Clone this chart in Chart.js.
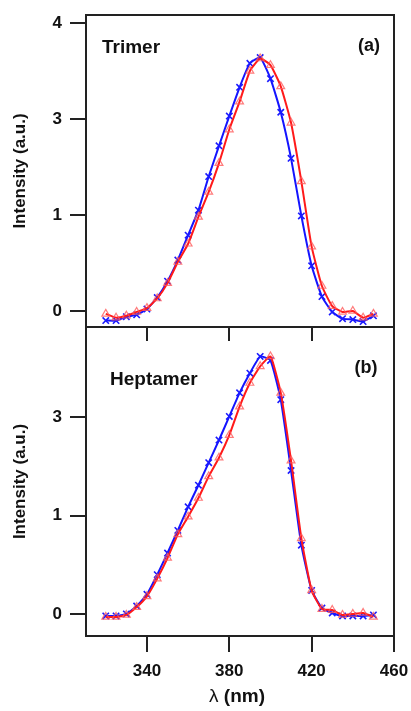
<!DOCTYPE html>
<html>
<head>
<meta charset="utf-8">
<script src="https://cdn.jsdelivr.net/npm/chart.js@4.4.1/dist/chart.umd.min.js"></script>
<style>
  html, body { margin: 0; padding: 0; background: #fff; }
  #wrap { position: relative; width: 411px; height: 711px; }
  .panel { position: absolute; left: 0; width: 411px; }
</style>
</head>
<body>
<div id="wrap">
  <div class="panel" style="top:0; height:328px"><canvas id="trimer"></canvas></div>
  <div class="panel" style="top:326px; height:385px"><canvas id="heptamer"></canvas></div>
</div>
<script>
// wavelength (nm) of each measured point
const wavelengths = [320, 325, 330, 335, 340, 345, 350, 355, 360, 365, 370, 375, 380, 385,
  390, 395, 400, 405, 410, 415, 420, 425, 430, 435, 440, 445, 450]

// (a) Trimer (evenly spaced tick units)
const trimerBlue = [-0.10, -0.10, -0.06, -0.04, 0.02, 0.14, 0.31, 0.53, 0.79, 1.05, 1.40, 1.72, 2.03, 2.33,
  2.58, 2.64, 2.42, 2.07, 1.59, 0.99, 0.47, 0.15, -0.01, -0.08, -0.09, -0.11, -0.05]
const trimerRed = [-0.03, -0.07, -0.05, -0.01, 0.03, 0.13, 0.29, 0.51, 0.70, 0.98, 1.24, 1.54, 1.89, 2.18,
  2.50, 2.63, 2.56, 2.34, 1.96, 1.35, 0.67, 0.26, 0.05, -0.01, 0.00, -0.07, -0.03]

// (b) Heptamer
const heptamerBlue = [-0.02, -0.02, 0.00, 0.08, 0.20, 0.40, 0.62, 0.85, 1.09, 1.31, 1.54, 1.77, 2.01, 2.25,
  2.45, 2.62, 2.58, 2.18, 1.46, 0.70, 0.24, 0.06, 0.01, -0.02, -0.02, -0.02, -0.01]
const heptamerRed = [-0.03, -0.03, -0.01, 0.07, 0.18, 0.36, 0.57, 0.81, 0.99, 1.18, 1.40, 1.59, 1.82, 2.11,
  2.35, 2.52, 2.62, 2.25, 1.56, 0.77, 0.24, 0.05, 0.04, -0.01, 0.00, 0.01, -0.03]

const xTicks = [340, 380, 420, 460]
const yTicksA = [0, 1, 2, 3]
const yLabelsA = ["0", "1", "3", "4"]
const yTicksB = [0, 1, 2]
const yLabelsB = ["0", "1", "3"]

const FONT = '"Liberation Sans", Arial, Helvetica, sans-serif'
const INK = "#222"

// box around the plot area, panel names, inner ticks and the lambda title
const framePlugin = {
  id: "frame",
  afterDatasetsDraw(chart, args, opts) {
    const { ctx, chartArea: a } = chart
    ctx.save()
    ctx.strokeStyle = INK
    ctx.lineWidth = 2
    ctx.strokeRect(a.left, a.top, a.right - a.left, a.bottom - a.top)
    if (opts.topTicks) {
      const x = chart.scales.x
      ctx.beginPath()
      opts.topTicks.forEach(v => {
        const px = Math.round(x.getPixelForValue(v))
        ctx.moveTo(px, a.top)
        ctx.lineTo(px, a.top + 14)
      })
      ctx.stroke()
    }
    ctx.fillStyle = "#111"
    ctx.textBaseline = "middle"
    ctx.textAlign = "left"
    ctx.font = "bold 19px " + FONT
    ctx.fillText(opts.name, a.left + opts.nameAt[0], a.top + opts.nameAt[1])
    ctx.textAlign = "center"
    ctx.font = "bold 18px " + FONT
    ctx.fillText(opts.tag, a.right - opts.tagAt[0], a.top + opts.tagAt[1])
    if (opts.xTitleY) {
      // "λ" is set in a normal weight, "(nm)" in bold
      ctx.textAlign = "left"
      ctx.font = "19px " + FONT
      const w1 = ctx.measureText("λ ").width
      ctx.font = "bold 19px " + FONT
      const w2 = ctx.measureText("(nm)").width
      const x0 = (a.left + a.right) / 2 - 3 - (w1 + w2) / 2
      ctx.font = "19px " + FONT
      ctx.fillText("λ ", x0, opts.xTitleY)
      ctx.font = "bold 19px " + FONT
      ctx.fillText("(nm)", x0 + w1, opts.xTitleY)
    }
    ctx.restore()
  }
}

function series(values) {
  return values.map((v, i) => ({ x: wavelengths[i], y: v }))
}

function makeChart(id, blue, red, yMin, yMax, yTicks, yLabels, showX, frame, padding) {
  const tickFont = { family: FONT, size: 17, weight: "bold" }
  return new Chart(document.getElementById(id), {
    type: "line",
    data: {
      datasets: [
        {
          label: "red",
          data: series(red),
          borderColor: "#ff1a1a",
          borderWidth: 2,
          tension: 0.15,
          pointStyle: "triangle",
          pointRadius: 4.5,
          pointBorderWidth: 1.2,
          pointBorderColor: "rgba(255,90,90,0.8)",
          pointBackgroundColor: "rgba(0,0,0,0)"
        },
        {
          label: "blue",
          data: series(blue),
          borderColor: "#1414ff",
          borderWidth: 2,
          tension: 0.15,
          pointStyle: "crossRot",
          pointRadius: 4.5,
          pointBorderWidth: 1.6,
          pointBorderColor: "#1a1aff"
        }
      ]
    },
    options: {
      responsive: true,
      maintainAspectRatio: false,
      animation: false,
      devicePixelRatio: 1,
      layout: { padding: padding, autoPadding: false },
      plugins: {
        legend: { display: false },
        tooltip: { enabled: false },
        frame: frame
      },
      scales: {
        x: {
          type: "linear",
          display: showX,
          min: 310.4,
          max: 460,
          afterBuildTicks: s => { s.ticks = xTicks.map(v => ({ value: v })) },
          afterFit: s => {
            s.height = showX ? 75 : 0
            s.paddingLeft = 0
            s.paddingRight = 0
          },
          border: { display: false },
          grid: { drawOnChartArea: false, drawTicks: true, tickLength: 16, color: INK, lineWidth: 2 },
          ticks: { font: tickFont, color: "#111", padding: 9, maxRotation: 0 }
        },
        y: {
          type: "linear",
          min: yMin,
          max: yMax,
          afterBuildTicks: s => { s.ticks = yTicks.map(v => ({ value: v })) },
          afterFit: s => {
            s.width = 86
            s.paddingTop = 0
            s.paddingBottom = 0
          },
          border: { display: false },
          grid: { drawOnChartArea: false, drawTicks: true, tickLength: 16, color: INK, lineWidth: 2 },
          ticks: { font: tickFont, color: "#111", padding: 8, callback: (v, i) => yLabels[i] },
          title: {
            display: true,
            text: "Intensity (a.u.)",
            color: "#111",
            font: { family: FONT, size: 17, weight: "bold" },
            padding: { top: 10, bottom: 0 }
          }
        }
      }
    },
    plugins: [framePlugin]
  })
}

makeChart("trimer", trimerBlue, trimerRed, -0.167, 3.083, yTicksA, yLabelsA, false,
  { name: "Trimer", nameAt: [16, 33], tag: "(a)", tagAt: [25, 31] },
  { top: 15, right: 17, bottom: 1, left: 0 })

makeChart("heptamer", heptamerBlue, heptamerRed, -0.224, 2.92, yTicksB, yLabelsB, true,
  { name: "Heptamer", nameAt: [24, 53], tag: "(b)", tagAt: [28, 41], topTicks: xTicks, xTitleY: 371 },
  { top: 1, right: 17, bottom: 0, left: 0 })
</script>
</body>
</html>
